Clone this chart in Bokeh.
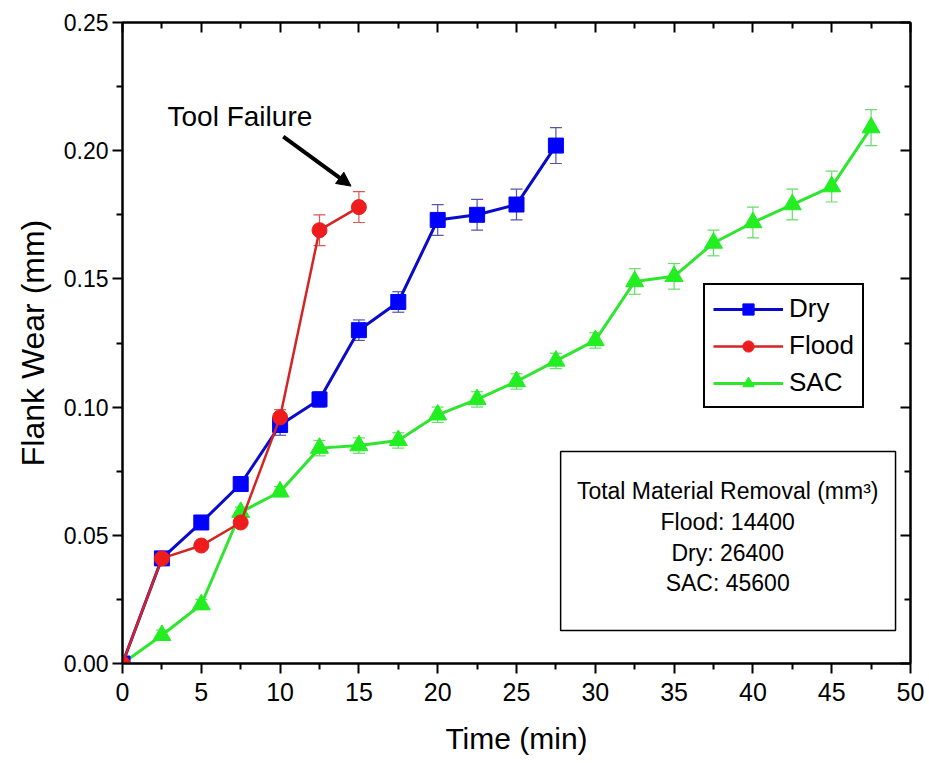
from bokeh.plotting import figure
from bokeh.models import (ColumnDataSource, Whisker, TeeHead, Legend, LegendItem,
                          LinearAxis, Range1d, Label, Arrow, NormalHead, BoxAnnotation,
                          FixedTicker, CustomLabelingPolicy)
from bokeh.embed import file_html
from bokeh.resources import INLINE

# ---------------- data ----------------
time_dry = [0, 2.5, 5, 7.5, 10, 12.5, 15, 17.5, 20, 22.5, 25, 27.5]
wear_dry = [0, 0.041, 0.055, 0.070, 0.093, 0.103, 0.130, 0.141, 0.173, 0.175, 0.179, 0.202]
err_dry = [0, 0.001, 0.001, 0.001, 0.004, 0.003, 0.004, 0.004, 0.006, 0.006, 0.006, 0.007]

time_flood = [0, 2.5, 5, 7.5, 10, 12.5, 15]
wear_flood = [0, 0.041, 0.046, 0.055, 0.096, 0.169, 0.178]
err_flood = [0, 0.001, 0.001, 0.001, 0.003, 0.006, 0.006]

time_sac = [0, 2.5, 5, 7.5, 10, 12.5, 15, 17.5, 20, 22.5, 25, 27.5, 30,
            32.5, 35, 37.5, 40, 42.5, 45, 47.5]
wear_sac = [0, 0.011, 0.023, 0.059, 0.067, 0.084, 0.085, 0.087, 0.097, 0.103,
            0.110, 0.118, 0.126, 0.149, 0.151, 0.164, 0.172, 0.179, 0.186, 0.209]
err_sac = [0, 0.002, 0.002, 0.002, 0.002, 0.003, 0.003, 0.003, 0.003, 0.003,
           0.003, 0.003, 0.003, 0.005, 0.005, 0.005, 0.006, 0.006, 0.006, 0.007]

x_ticks = [0, 5, 10, 15, 20, 25, 30, 35, 40, 45, 50]
y_ticks = [0.00, 0.05, 0.10, 0.15, 0.20, 0.25]
y_tick_labels = ["0.00", "0.05", "0.10", "0.15", "0.20", "0.25"]

note_lines = ["Total Material Removal (mm\u00b3)", "Flood: 14400", "Dry: 26400", "SAC: 45600"]

FONT = "Liberation Sans"

p = figure(width=929, height=763, output_backend="svg", toolbar_location=None,
           x_range=Range1d(0, 50), y_range=Range1d(0, 0.25),
           min_border_left=122, min_border_right=19, min_border_top=22, min_border_bottom=100)
p.background_fill_color = "white"
p.border_fill_color = "white"
p.grid.visible = False
p.outline_line_color = "black"
p.outline_line_width = 2

no_labels = CustomLabelingPolicy(code="""
const ids = Array.from(indices);
for (const i of ids) { indices.unset(i); }
return indices;
""")

def style_axis(ax, size="23px"):
    ax.axis_line_color = "black"
    ax.axis_line_width = 2
    ax.major_tick_line_width = 2
    ax.minor_tick_line_width = 2
    ax.major_tick_line_color = "black"
    ax.minor_tick_line_color = "black"
    ax.major_label_text_font = FONT
    ax.major_label_text_font_size = size
    ax.major_label_text_color = "black"
    ax.axis_label_text_font = FONT
    ax.axis_label_text_font_size = "30px"
    ax.axis_label_text_font_style = "normal"
    ax.axis_label_text_color = "black"

xa = p.xaxis[0]
xa.ticker = FixedTicker(ticks=x_ticks, minor_ticks=[v + 2.5 for v in x_ticks[:-1]])
xa.axis_label = "Time (min)"
style_axis(xa, "25px")
xa.major_tick_out, xa.major_tick_in = 10, 0
xa.minor_tick_out, xa.minor_tick_in = 6, 0
xa.major_label_standoff = 9
xa.axis_label_standoff = 18

ya = p.yaxis[0]
ya.ticker = FixedTicker(ticks=y_ticks, minor_ticks=[v + 0.025 for v in y_ticks[:-1]])
ya.major_label_overrides = {v: s for v, s in zip(y_ticks, y_tick_labels)}
ya.axis_label = "Flank Wear (mm)"
style_axis(ya, "23px")
ya.axis_label_text_font_size = "32px"
ya.major_tick_out, ya.major_tick_in = 10, 0
ya.minor_tick_out, ya.minor_tick_in = 6, 0
ya.major_label_standoff = 4
ya.axis_label_standoff = 10

ra = LinearAxis(ticker=FixedTicker(ticks=y_ticks, minor_ticks=[v + 0.025 for v in y_ticks[:-1]]),
                major_label_policy=no_labels)
style_axis(ra, "1px")
ra.major_label_standoff = 0
ra.major_tick_in, ra.major_tick_out = 10, 0
ra.minor_tick_in, ra.minor_tick_out = 6, 0
p.add_layout(ra, "right")

ta = LinearAxis(ticker=FixedTicker(ticks=x_ticks, minor_ticks=[v + 2.5 for v in x_ticks[:-1]]),
                major_label_policy=no_labels)
style_axis(ta, "1px")
ta.major_label_standoff = 0
ta.major_tick_in, ta.major_tick_out = 10, 0
ta.minor_tick_in, ta.minor_tick_out = 6, 0
p.add_layout(ta, "above")

def series(xs, ys, es, line_col, fill_col, err_col, marker, size, lw):
    src = ColumnDataSource(dict(x=xs, y=ys,
                                lo=[a - b for a, b in zip(ys, es)],
                                hi=[a + b for a, b in zip(ys, es)]))
    w = Whisker(base="x", lower="lo", upper="hi", source=src,
                line_color=err_col, line_width=1.2,
                upper_head=TeeHead(size=12, line_color=err_col, line_width=1.2),
                lower_head=TeeHead(size=12, line_color=err_col, line_width=1.2))
    p.add_layout(w)
    ln = p.line("x", "y", source=src, line_color=line_col, line_width=lw)
    mk = p.scatter("x", "y", source=src, marker=marker, size=size,
                   fill_color=fill_col, line_color=fill_col)
    return [ln, mk]

r_sac = series(time_sac, wear_sac, err_sac, "#2ee62e", "#22ee22", "#66dd66", "triangle", 18, 3)
r_dry = series(time_dry, wear_dry, err_dry, "#0a0acc", "#0000ff", "#5555aa", "square", 15, 3)
r_flood = series(time_flood, wear_flood, err_flood, "#d42424", "#ee1c1c", "#dd5555", "circle", 15, 2.5)

legend = Legend(items=[LegendItem(label="Dry", renderers=r_dry),
                       LegendItem(label="Flood", renderers=r_flood),
                       LegendItem(label="SAC", renderers=r_sac)],
                location=(581, 255))
legend.label_text_font = FONT
legend.label_text_font_size = "26px"
legend.label_text_color = "black"
legend.glyph_width = 70
legend.glyph_height = 28
legend.label_height = 28
legend.label_standoff = 6
legend.spacing = 6
legend.padding = 8
legend.margin = 0
legend.border_line_color = "black"
legend.border_line_alpha = 1
legend.border_line_width = 2
legend.background_fill_alpha = 1
p.add_layout(legend)

# note box
p.add_layout(BoxAnnotation(left=27.8, right=49.05, bottom=0.0129, top=0.0827,
                           fill_alpha=0, line_color="black", line_alpha=1, line_width=1.5))
note_y = [0.0672, 0.0552, 0.0432, 0.0315]
for txt, yy in zip(note_lines, note_y):
    p.add_layout(Label(x=38.4, y=yy, text=txt, text_align="center", text_baseline="middle",
                       text_font=FONT, text_font_size="23px", text_color="black"))

p.add_layout(Label(x=7.45, y=0.2135, text="Tool Failure", text_align="center",
                   text_baseline="middle", text_font=FONT, text_font_size="28px",
                   text_color="black"))
p.add_layout(Arrow(x_start=10.2, y_start=0.2055, x_end=14.5, y_end=0.1862,
                   line_width=4, line_color="black",
                   end=NormalHead(size=14, fill_color="black", line_color="black")))

open("out.html", "w").write(file_html(p, INLINE))
